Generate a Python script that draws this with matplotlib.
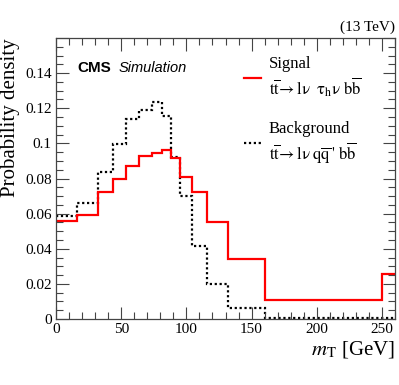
import numpy as np
import matplotlib.pyplot as plt
from matplotlib.ticker import MultipleLocator, FuncFormatter

# bin edges in GeV and normalised contents
edges = [0, 16, 32, 44, 54, 64, 74, 81, 88, 95, 104, 116, 132, 160, 250, 260]
signal = [0.0556, 0.0594, 0.0724, 0.0798, 0.0870, 0.0927, 0.0947, 0.0960,
          0.0918, 0.0810, 0.0724, 0.0550, 0.0343, 0.0109, 0.0257]
background = [0.0589, 0.0660, 0.0836, 0.0998, 0.1137, 0.1190, 0.1238, 0.1156,
              0.0920, 0.0699, 0.0413, 0.0198, 0.0061, 0.0005, 0.0005]

plt.rcParams['font.family'] = ['Liberation Serif', 'DejaVu Serif']
plt.rcParams['mathtext.fontset'] = 'stix'

fig = plt.figure(figsize=(3.99, 3.85), dpi=100)
ax = fig.add_axes([56/399, 66/385, 339/399, 281/385])

ax.stairs(background, edges, color='black', lw=1.6, ls=(0, (1, 1.2)), baseline=None,
          label='Background\n' + r"$\mathrm{t\overline{t}\!\rightarrow l\nu\ q\overline{q}\,\text{'}\ b\overline{b}}$")
ax.stairs(signal, edges, color='red', lw=1.6, baseline=None,
          label='Signal\n' + r'$\mathrm{t\overline{t}\!\rightarrow l\nu\ \ \tau_h\nu\ b\overline{b}}$')

ax.set_xlim(0, 260)
ax.set_ylim(0, 0.16)
ax.xaxis.set_major_locator(MultipleLocator(50))
ax.xaxis.set_minor_locator(MultipleLocator(10))
ax.yaxis.set_major_locator(MultipleLocator(0.02))
ax.yaxis.set_minor_locator(MultipleLocator(0.005))
ax.yaxis.set_major_formatter(FuncFormatter(lambda v, p: '' if v > 0.155 else '%g' % round(v, 3)))
ax.tick_params(which='both', direction='in', top=True, right=True, labelsize=11,
               color='#444444', pad=3)
ax.tick_params(which='major', length=9, width=0.8)
ax.tick_params(which='minor', length=5, width=0.8)
for s in ax.spines.values():
    s.set_color('#444444')
    s.set_linewidth(0.9)

ax.set_xlabel(r'$m_\mathrm{T}$ [GeV]', fontsize=15, loc='right', labelpad=2)
ax.set_ylabel('Probability density', fontsize=15, loc='top', labelpad=4)

ax.text(0.062, 0.892, 'CMS', transform=ax.transAxes, fontsize=11, fontweight='bold',
        family='Liberation Sans', va='center')
ax.text(0.186, 0.892, 'Simulation', transform=ax.transAxes, fontsize=10.5,
        style='italic', family='Liberation Sans', va='center')
ax.text(1.0, 1.015, '(13 TeV)', transform=ax.transAxes, fontsize=11,
        ha='right', va='bottom')

h, l = ax.get_legend_handles_labels()
ax.legend(h[::-1], l[::-1], loc='upper left', bbox_to_anchor=(0.51, 0.99),
          frameon=False, fontsize=12, handlelength=1.05, handletextpad=0.45,
          labelspacing=1.3)

plt.savefig('out.png', dpi=100)
